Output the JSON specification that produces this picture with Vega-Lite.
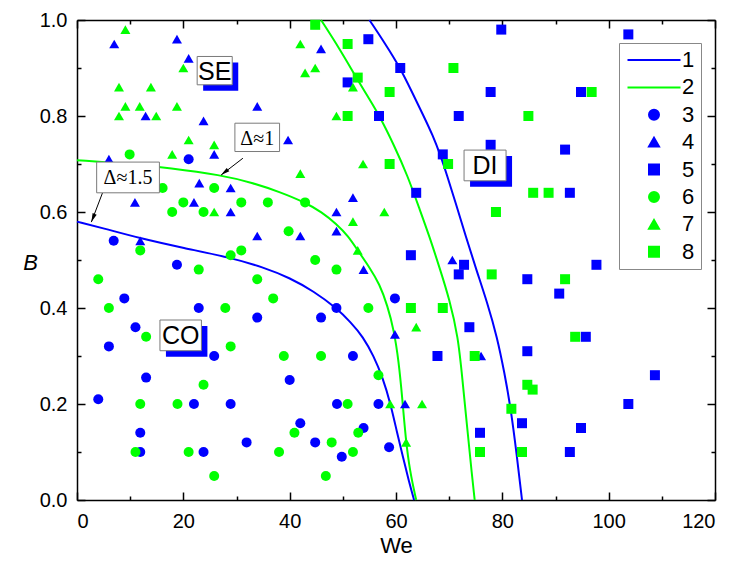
{
  "$schema": "https://vega.github.io/schema/vega-lite/v6.json",
  "width": 638,
  "height": 480,
  "autosize": {"type": "none"},
  "padding": {"left": 77, "top": 20, "right": 20, "bottom": 62},
  "background": "white",
  "config": {
    "font": "Liberation Sans",
    "view": {"stroke": null},
    "axis": {
      "domainColor": "black", "domainWidth": 1.5,
      "tickColor": "black", "tickWidth": 1.5,
      "labelColor": "black", "labelFont": "Liberation Sans", "labelFontSize": 20,
      "titleFont": "Liberation Sans", "titleFontSize": 22, "titleFontWeight": "normal", "titleColor": "black",
      "grid": false
    },
    "legend": {
      "title": null, "orient": "none", "legendX": 542, "legendY": 23,
      "labelFontSize": 22, "labelFont": "Liberation Sans", "labelColor": "black",
      "strokeColor": "#888888", "fillColor": "white", "padding": 6, "rowPadding": 5.4, "columnPadding": 0,
      "symbolOffset": 18, "labelOffset": 17, "symbolStrokeWidth": 2
    }
  },
  "datasets": {
    "points": [
      {"We": 21.0, "B": 0.71, "series": "3"}, {"We": 6.9, "B": 0.54, "series": "3"}, {"We": 18.8, "B": 0.49, "series": "3"},
      {"We": 8.9, "B": 0.42, "series": "3"}, {"We": 22.9, "B": 0.40, "series": "3"}, {"We": 33.9, "B": 0.38, "series": "3"},
      {"We": 11.0, "B": 0.36, "series": "3"}, {"We": 6.0, "B": 0.32, "series": "3"}, {"We": 25.8, "B": 0.30, "series": "3"},
      {"We": 13.0, "B": 0.255, "series": "3"}, {"We": 4.0, "B": 0.21, "series": "3"}, {"We": 22.0, "B": 0.20, "series": "3"},
      {"We": 28.9, "B": 0.20, "series": "3"}, {"We": 11.9, "B": 0.14, "series": "3"}, {"We": 31.9, "B": 0.12, "series": "3"},
      {"We": 11.9, "B": 0.10, "series": "3"}, {"We": 23.8, "B": 0.10, "series": "3"}, {"We": 59.8, "B": 0.42, "series": "3"},
      {"We": 48.8, "B": 0.40, "series": "3"}, {"We": 45.9, "B": 0.38, "series": "3"}, {"We": 51.9, "B": 0.30, "series": "3"},
      {"We": 40.0, "B": 0.25, "series": "3"}, {"We": 48.9, "B": 0.20, "series": "3"}, {"We": 56.7, "B": 0.20, "series": "3"},
      {"We": 42.0, "B": 0.16, "series": "3"}, {"We": 53.9, "B": 0.15, "series": "3"}, {"We": 44.8, "B": 0.12, "series": "3"},
      {"We": 58.7, "B": 0.11, "series": "3"}, {"We": 49.8, "B": 0.09, "series": "3"},

      {"We": 7.0, "B": 0.95, "series": "4"}, {"We": 18.8, "B": 0.96, "series": "4"}, {"We": 21.0, "B": 0.92, "series": "4"},
      {"We": 33.9, "B": 0.82, "series": "4"}, {"We": 12.9, "B": 0.80, "series": "4"}, {"We": 23.8, "B": 0.79, "series": "4"},
      {"We": 39.7, "B": 0.75, "series": "4"}, {"We": 25.8, "B": 0.72, "series": "4"}, {"We": 6.0, "B": 0.71, "series": "4"},
      {"We": 45.9, "B": 0.94, "series": "4"}, {"We": 23.0, "B": 0.66, "series": "4"}, {"We": 28.9, "B": 0.65, "series": "4"},
      {"We": 10.9, "B": 0.62, "series": "4"}, {"We": 22.0, "B": 0.62, "series": "4"}, {"We": 28.9, "B": 0.60, "series": "4"},
      {"We": 33.9, "B": 0.55, "series": "4"}, {"We": 11.9, "B": 0.54, "series": "4"}, {"We": 51.9, "B": 0.63, "series": "4"},
      {"We": 48.8, "B": 0.60, "series": "4"}, {"We": 48.8, "B": 0.56, "series": "4"}, {"We": 42.0, "B": 0.55, "series": "4"},
      {"We": 70.6, "B": 0.50, "series": "4"}, {"We": 53.9, "B": 0.48, "series": "4"}, {"We": 59.8, "B": 0.345, "series": "4"},
      {"We": 61.7, "B": 0.20, "series": "4"}, {"We": 76.0, "B": 0.30, "series": "4"},

      {"We": 54.8, "B": 0.96, "series": "5"}, {"We": 50.9, "B": 0.87, "series": "5"}, {"We": 60.8, "B": 0.90, "series": "5"},
      {"We": 77.8, "B": 0.85, "series": "5"}, {"We": 56.8, "B": 0.80, "series": "5"}, {"We": 71.8, "B": 0.80, "series": "5"},
      {"We": 77.8, "B": 0.74, "series": "5"}, {"We": 68.8, "B": 0.72, "series": "5"}, {"We": 79.8, "B": 0.98, "series": "5"},
      {"We": 103.7, "B": 0.97, "series": "5"}, {"We": 94.8, "B": 0.85, "series": "5"}, {"We": 91.8, "B": 0.73, "series": "5"},
      {"We": 92.7, "B": 0.64, "series": "5"}, {"We": 97.7, "B": 0.49, "series": "5"}, {"We": 84.7, "B": 0.46, "series": "5"},
      {"We": 90.7, "B": 0.43, "series": "5"}, {"We": 95.7, "B": 0.34, "series": "5"}, {"We": 63.8, "B": 0.64, "series": "5"},
      {"We": 62.8, "B": 0.51, "series": "5"}, {"We": 72.8, "B": 0.49, "series": "5"}, {"We": 71.8, "B": 0.47, "series": "5"},
      {"We": 73.8, "B": 0.36, "series": "5"}, {"We": 67.8, "B": 0.30, "series": "5"}, {"We": 75.8, "B": 0.14, "series": "5"},
      {"We": 84.7, "B": 0.31, "series": "5"}, {"We": 108.7, "B": 0.26, "series": "5"}, {"We": 103.7, "B": 0.20, "series": "5"},
      {"We": 83.7, "B": 0.16, "series": "5"}, {"We": 94.8, "B": 0.15, "series": "5"}, {"We": 92.7, "B": 0.10, "series": "5"},

      {"We": 9.9, "B": 0.72, "series": "6"}, {"We": 25.8, "B": 0.65, "series": "6"}, {"We": 16.1, "B": 0.65, "series": "6"},
      {"We": 20.0, "B": 0.62, "series": "6"}, {"We": 30.9, "B": 0.62, "series": "6"}, {"We": 35.9, "B": 0.62, "series": "6"},
      {"We": 17.9, "B": 0.60, "series": "6"}, {"We": 23.8, "B": 0.60, "series": "6"}, {"We": 11.9, "B": 0.52, "series": "6"},
      {"We": 30.9, "B": 0.52, "series": "6"}, {"We": 28.9, "B": 0.51, "series": "6"}, {"We": 22.9, "B": 0.48, "series": "6"},
      {"We": 4.0, "B": 0.46, "series": "6"}, {"We": 33.9, "B": 0.46, "series": "6"}, {"We": 36.9, "B": 0.42, "series": "6"},
      {"We": 6.0, "B": 0.40, "series": "6"}, {"We": 27.9, "B": 0.40, "series": "6"}, {"We": 13.0, "B": 0.34, "series": "6"},
      {"We": 42.9, "B": 0.62, "series": "6"}, {"We": 39.8, "B": 0.56, "series": "6"}, {"We": 44.8, "B": 0.50, "series": "6"},
      {"We": 48.8, "B": 0.48, "series": "6"}, {"We": 54.8, "B": 0.40, "series": "6"}, {"We": 28.9, "B": 0.32, "series": "6"},
      {"We": 23.8, "B": 0.24, "series": "6"}, {"We": 11.9, "B": 0.20, "series": "6"}, {"We": 18.9, "B": 0.20, "series": "6"},
      {"We": 11.0, "B": 0.10, "series": "6"}, {"We": 21.0, "B": 0.10, "series": "6"}, {"We": 25.8, "B": 0.05, "series": "6"},
      {"We": 38.9, "B": 0.30, "series": "6"}, {"We": 45.9, "B": 0.30, "series": "6"}, {"We": 56.7, "B": 0.26, "series": "6"},
      {"We": 50.9, "B": 0.20, "series": "6"}, {"We": 40.9, "B": 0.14, "series": "6"}, {"We": 52.9, "B": 0.14, "series": "6"},
      {"We": 47.9, "B": 0.12, "series": "6"}, {"We": 38.0, "B": 0.10, "series": "6"}, {"We": 51.9, "B": 0.10, "series": "6"},
      {"We": 46.8, "B": 0.05, "series": "6"},

      {"We": 9.1, "B": 0.98, "series": "7"}, {"We": 20.0, "B": 0.90, "series": "7"}, {"We": 7.9, "B": 0.86, "series": "7"},
      {"We": 13.9, "B": 0.86, "series": "7"}, {"We": 9.1, "B": 0.82, "series": "7"}, {"We": 11.8, "B": 0.82, "series": "7"},
      {"We": 18.8, "B": 0.82, "series": "7"}, {"We": 7.9, "B": 0.80, "series": "7"}, {"We": 14.9, "B": 0.80, "series": "7"},
      {"We": 21.0, "B": 0.75, "series": "7"}, {"We": 25.8, "B": 0.74, "series": "7"}, {"We": 17.9, "B": 0.72, "series": "7"},
      {"We": 42.0, "B": 0.95, "series": "7"}, {"We": 42.9, "B": 0.89, "series": "7"}, {"We": 44.8, "B": 0.90, "series": "7"},
      {"We": 51.9, "B": 0.86, "series": "7"}, {"We": 48.8, "B": 0.80, "series": "7"}, {"We": 53.8, "B": 0.70, "series": "7"},
      {"We": 42.0, "B": 0.68, "series": "7"}, {"We": 25.8, "B": 0.60, "series": "7"}, {"We": 57.8, "B": 0.60, "series": "7"},
      {"We": 51.9, "B": 0.58, "series": "7"}, {"We": 52.8, "B": 0.52, "series": "7"}, {"We": 63.8, "B": 0.36, "series": "7"},
      {"We": 58.9, "B": 0.20, "series": "7"}, {"We": 64.9, "B": 0.20, "series": "7"}, {"We": 61.9, "B": 0.12, "series": "7"},

      {"We": 44.8, "B": 0.99, "series": "8"}, {"We": 50.9, "B": 0.95, "series": "8"}, {"We": 52.8, "B": 0.88, "series": "8"},
      {"We": 70.8, "B": 0.90, "series": "8"}, {"We": 58.8, "B": 0.85, "series": "8"}, {"We": 50.9, "B": 0.80, "series": "8"},
      {"We": 69.8, "B": 0.70, "series": "8"}, {"We": 58.8, "B": 0.70, "series": "8"}, {"We": 96.8, "B": 0.85, "series": "8"},
      {"We": 84.9, "B": 0.80, "series": "8"}, {"We": 85.8, "B": 0.64, "series": "8"}, {"We": 88.7, "B": 0.64, "series": "8"},
      {"We": 78.8, "B": 0.60, "series": "8"}, {"We": 78.0, "B": 0.47, "series": "8"}, {"We": 91.8, "B": 0.46, "series": "8"},
      {"We": 93.7, "B": 0.34, "series": "8"}, {"We": 62.8, "B": 0.40, "series": "8"}, {"We": 68.8, "B": 0.40, "series": "8"},
      {"We": 74.8, "B": 0.30, "series": "8"}, {"We": 75.8, "B": 0.10, "series": "8"}, {"We": 84.7, "B": 0.24, "series": "8"},
      {"We": 85.7, "B": 0.23, "series": "8"}, {"We": 81.7, "B": 0.19, "series": "8"}, {"We": 83.7, "B": 0.10, "series": "8"}
    ],
    "curves": [
      {"We": 55.0, "B": 1.0, "series": "1", "branch": "outer"}, {"We": 58.0, "B": 0.95, "series": "1", "branch": "outer"},
      {"We": 60.8, "B": 0.90, "series": "1", "branch": "outer"}, {"We": 63.0, "B": 0.85, "series": "1", "branch": "outer"},
      {"We": 65.2, "B": 0.80, "series": "1", "branch": "outer"}, {"We": 66.9, "B": 0.76, "series": "1", "branch": "outer"},
      {"We": 68.3, "B": 0.72, "series": "1", "branch": "outer"}, {"We": 69.5, "B": 0.68, "series": "1", "branch": "outer"},
      {"We": 71.2, "B": 0.62, "series": "1", "branch": "outer"}, {"We": 73.1, "B": 0.55, "series": "1", "branch": "outer"},
      {"We": 75.1, "B": 0.48, "series": "1", "branch": "outer"}, {"We": 77.2, "B": 0.41, "series": "1", "branch": "outer"},
      {"We": 79.0, "B": 0.34, "series": "1", "branch": "outer"}, {"We": 80.4, "B": 0.265, "series": "1", "branch": "outer"},
      {"We": 81.6, "B": 0.19, "series": "1", "branch": "outer"}, {"We": 82.7, "B": 0.095, "series": "1", "branch": "outer"},
      {"We": 83.7, "B": 0.0, "series": "1", "branch": "outer"},

      {"We": 0.0, "B": 0.58, "series": "1", "branch": "inner"}, {"We": 5.0, "B": 0.566, "series": "1", "branch": "inner"},
      {"We": 11.9, "B": 0.545, "series": "1", "branch": "inner"}, {"We": 20.0, "B": 0.525, "series": "1", "branch": "inner"},
      {"We": 28.9, "B": 0.505, "series": "1", "branch": "inner"}, {"We": 35.0, "B": 0.485, "series": "1", "branch": "inner"},
      {"We": 40.0, "B": 0.463, "series": "1", "branch": "inner"}, {"We": 44.5, "B": 0.435, "series": "1", "branch": "inner"},
      {"We": 48.8, "B": 0.40, "series": "1", "branch": "inner"}, {"We": 51.5, "B": 0.37, "series": "1", "branch": "inner"},
      {"We": 53.8, "B": 0.34, "series": "1", "branch": "inner"}, {"We": 55.8, "B": 0.30, "series": "1", "branch": "inner"},
      {"We": 57.5, "B": 0.255, "series": "1", "branch": "inner"}, {"We": 59.0, "B": 0.20, "series": "1", "branch": "inner"},
      {"We": 60.2, "B": 0.14, "series": "1", "branch": "inner"}, {"We": 61.3, "B": 0.09, "series": "1", "branch": "inner"},
      {"We": 62.4, "B": 0.04, "series": "1", "branch": "inner"}, {"We": 63.4, "B": 0.0, "series": "1", "branch": "inner"},

      {"We": 45.9, "B": 1.0, "series": "2", "branch": "outer"}, {"We": 49.4, "B": 0.94, "series": "2", "branch": "outer"},
      {"We": 52.8, "B": 0.875, "series": "2", "branch": "outer"}, {"We": 55.0, "B": 0.835, "series": "2", "branch": "outer"},
      {"We": 56.9, "B": 0.80, "series": "2", "branch": "outer"}, {"We": 59.6, "B": 0.74, "series": "2", "branch": "outer"},
      {"We": 62.2, "B": 0.675, "series": "2", "branch": "outer"}, {"We": 64.3, "B": 0.61, "series": "2", "branch": "outer"},
      {"We": 66.3, "B": 0.549, "series": "2", "branch": "outer"}, {"We": 68.3, "B": 0.48, "series": "2", "branch": "outer"},
      {"We": 70.0, "B": 0.42, "series": "2", "branch": "outer"}, {"We": 71.7, "B": 0.34, "series": "2", "branch": "outer"},
      {"We": 72.5, "B": 0.25, "series": "2", "branch": "outer"}, {"We": 73.4, "B": 0.15, "series": "2", "branch": "outer"},
      {"We": 74.3, "B": 0.05, "series": "2", "branch": "outer"}, {"We": 74.8, "B": 0.0, "series": "2", "branch": "outer"},

      {"We": 0.0, "B": 0.708, "series": "2", "branch": "inner"}, {"We": 10.0, "B": 0.70, "series": "2", "branch": "inner"},
      {"We": 17.4, "B": 0.692, "series": "2", "branch": "inner"}, {"We": 27.1, "B": 0.677, "series": "2", "branch": "inner"},
      {"We": 33.0, "B": 0.661, "series": "2", "branch": "inner"}, {"We": 38.1, "B": 0.642, "series": "2", "branch": "inner"},
      {"We": 42.9, "B": 0.62, "series": "2", "branch": "inner"}, {"We": 46.0, "B": 0.60, "series": "2", "branch": "inner"},
      {"We": 48.8, "B": 0.575, "series": "2", "branch": "inner"}, {"We": 51.0, "B": 0.55, "series": "2", "branch": "inner"},
      {"We": 52.8, "B": 0.52, "series": "2", "branch": "inner"}, {"We": 55.0, "B": 0.485, "series": "2", "branch": "inner"},
      {"We": 56.9, "B": 0.45, "series": "2", "branch": "inner"}, {"We": 58.4, "B": 0.405, "series": "2", "branch": "inner"},
      {"We": 59.6, "B": 0.354, "series": "2", "branch": "inner"}, {"We": 60.5, "B": 0.29, "series": "2", "branch": "inner"},
      {"We": 61.2, "B": 0.21, "series": "2", "branch": "inner"}, {"We": 61.8, "B": 0.13, "series": "2", "branch": "inner"},
      {"We": 62.6, "B": 0.06, "series": "2", "branch": "inner"}, {"We": 63.8, "B": 0.0, "series": "2", "branch": "inner"}
    ],
    "regions": [
      {"text": "SE", "x1": 22.6, "x2": 29.2, "y1": 0.865, "y2": 0.924, "tx": 25.9, "ty": 0.894},
      {"text": "CO", "x1": 15.6, "x2": 23.4, "y1": 0.311, "y2": 0.375, "tx": 19.5, "ty": 0.343},
      {"text": "DI", "x1": 72.8, "x2": 80.7, "y1": 0.665, "y2": 0.729, "tx": 76.75, "ty": 0.697}
    ],
    "deltas": [
      {"text": "Δ≈1", "x1": 29.7, "x2": 38.1, "y1": 0.726, "y2": 0.785, "tx": 33.9, "ty": 0.755, "ax": 31.2, "ay": 0.712, "bx": 27.1, "by": 0.677},
      {"text": "Δ≈1.5", "x1": 3.7, "x2": 15.5, "y1": 0.64, "y2": 0.704, "tx": 9.6, "ty": 0.672, "ax": 4.8, "ay": 0.64, "bx": 2.7, "by": 0.579}
    ]
  },
  "resolve": {"axis": {"x": "independent", "y": "independent"}},
  "layer": [
    {
      "data": {"name": "curves"},
      "mark": {"type": "line", "strokeWidth": 2, "interpolate": "basis"},
      "encoding": {
        "x": {"field": "We", "type": "quantitative", "scale": {"domain": [0, 120], "nice": false, "zero": false},
          "axis": {"orient": "top", "labels": false, "title": null, "values": [0,10,20,30,40,50,60,70,80,90,100,110,120],
            "tickSize": {"condition": {"test": "datum.value % 20 === 0", "value": -8}, "value": -4}}},
        "y": {"field": "B", "type": "quantitative", "scale": {"domain": [0, 1], "nice": false, "zero": false},
          "axis": {"orient": "right", "labels": false, "title": null, "values": [0,0.1,0.2,0.3,0.4,0.5,0.6,0.7,0.8,0.9,1.0],
            "tickSize": {"condition": {"test": "round(datum.value * 10) % 2 === 0", "value": -8}, "value": -4}}},
        "color": {"field": "series", "type": "nominal"},
        "detail": {"field": "branch"}
      }
    },
    {
      "data": {"name": "points"},
      "mark": {"type": "point", "filled": true, "opacity": 1, "strokeWidth": 0},
      "encoding": {
        "x": {"field": "We", "type": "quantitative",
          "axis": {"orient": "bottom", "title": "We", "titlePadding": 4, "values": [0,10,20,30,40,50,60,70,80,90,100,110,120],
            "labelExpr": "datum.value % 20 === 0 ? datum.label : ''", "labelPadding": 19,
            "tickSize": {"condition": {"test": "datum.value % 20 === 0", "value": -8}, "value": -4}}},
        "y": {"field": "B", "type": "quantitative",
          "axis": {"orient": "left", "title": "B", "titleFontStyle": "italic", "titleAngle": 0, "titleX": -47, "titleY": 242,
            "titleAlign": "center", "titleBaseline": "middle",
            "values": [0,0.1,0.2,0.3,0.4,0.5,0.6,0.7,0.8,0.9,1.0], "format": ".1f",
            "labelExpr": "round(datum.value * 10) % 2 === 0 ? datum.label : ''", "labelPadding": 18,
            "tickSize": {"condition": {"test": "round(datum.value * 10) % 2 === 0", "value": -8}, "value": -4}}},
        "color": {"field": "series", "type": "nominal",
          "scale": {"domain": ["1","2","3","4","5","6","7","8"],
            "range": ["#0000ff","#00ff00","#0000ff","#0000ff","#0000ff","#00ff00","#00ff00","#00ff00"]},
          "legend": {"encode": {"symbols": {"update": {"stroke": {"scale": "color", "field": "value"}}}}}},
        "shape": {"field": "series", "type": "nominal",
          "scale": {"domain": ["1","2","3","4","5","6","7","8"],
            "range": ["M-5.3,0H5.3","M-5.3,0H5.3","circle","triangle-up","square","circle","triangle-up","square"]},
          "legend": {"encode": {"symbols": {"update": {"stroke": {"scale": "color", "field": "value"}}}}}},
        "size": {"field": "series", "type": "nominal",
          "scale": {"domain": ["1","2","3","4","5","6","7","8"], "range": [100,100,95,150,95,95,150,95]},
          "legend": null}
      }
    },
    {
      "data": {"name": "deltas"},
      "mark": {"type": "rule", "color": "black", "strokeWidth": 1},
      "encoding": {
        "x": {"field": "ax", "type": "quantitative", "axis": null},
        "y": {"field": "ay", "type": "quantitative", "axis": null},
        "x2": {"field": "bx"},
        "y2": {"field": "by"}
      }
    },
    {
      "data": {"name": "deltas"},
      "transform": [{"filter": "datum.text === 'Δ≈1'"}],
      "mark": {"type": "point", "filled": true, "opacity": 1, "color": "black", "strokeWidth": 0,
        "shape": "M0,0L0.55,2.2L-0.55,2.2Z", "size": 64, "angle": 232},
      "encoding": {
        "x": {"field": "bx", "type": "quantitative", "axis": null},
        "y": {"field": "by", "type": "quantitative", "axis": null}
      }
    },
    {
      "data": {"name": "deltas"},
      "transform": [{"filter": "datum.text === 'Δ≈1.5'"}],
      "mark": {"type": "point", "filled": true, "opacity": 1, "color": "black", "strokeWidth": 0,
        "shape": "M0,0L0.55,2.2L-0.55,2.2Z", "size": 64, "angle": 202},
      "encoding": {
        "x": {"field": "bx", "type": "quantitative", "axis": null},
        "y": {"field": "by", "type": "quantitative", "axis": null}
      }
    },
    {
      "data": {"name": "regions"},
      "mark": {"type": "rect", "color": "#0000ff", "xOffset": 6, "x2Offset": 6, "yOffset": 6, "y2Offset": 6},
      "encoding": {
        "x": {"field": "x1", "type": "quantitative", "axis": null},
        "x2": {"field": "x2"},
        "y": {"field": "y1", "type": "quantitative", "axis": null},
        "y2": {"field": "y2"}
      }
    },
    {
      "data": {"name": "regions"},
      "mark": {"type": "rect", "fill": "white", "stroke": "#7a7a7a", "strokeWidth": 1},
      "encoding": {
        "x": {"field": "x1", "type": "quantitative", "axis": null},
        "x2": {"field": "x2"},
        "y": {"field": "y1", "type": "quantitative", "axis": null},
        "y2": {"field": "y2"}
      }
    },
    {
      "data": {"name": "deltas"},
      "mark": {"type": "rect", "fill": "white", "stroke": "#7a7a7a", "strokeWidth": 1},
      "encoding": {
        "x": {"field": "x1", "type": "quantitative", "axis": null},
        "x2": {"field": "x2"},
        "y": {"field": "y1", "type": "quantitative", "axis": null},
        "y2": {"field": "y2"}
      }
    },
    {
      "data": {"name": "regions"},
      "mark": {"type": "text", "font": "Liberation Sans", "fontSize": 25, "color": "black", "align": "center", "baseline": "middle", "dy": 1},
      "encoding": {
        "x": {"field": "tx", "type": "quantitative", "axis": null},
        "y": {"field": "ty", "type": "quantitative", "axis": null},
        "text": {"field": "text"}
      }
    },
    {
      "data": {"name": "deltas"},
      "mark": {"type": "text", "font": "Liberation Serif", "fontSize": 20, "color": "black", "align": "center", "baseline": "middle", "dy": 1},
      "encoding": {
        "x": {"field": "tx", "type": "quantitative", "axis": null},
        "y": {"field": "ty", "type": "quantitative", "axis": null},
        "text": {"field": "text"}
      }
    }
  ]
}
